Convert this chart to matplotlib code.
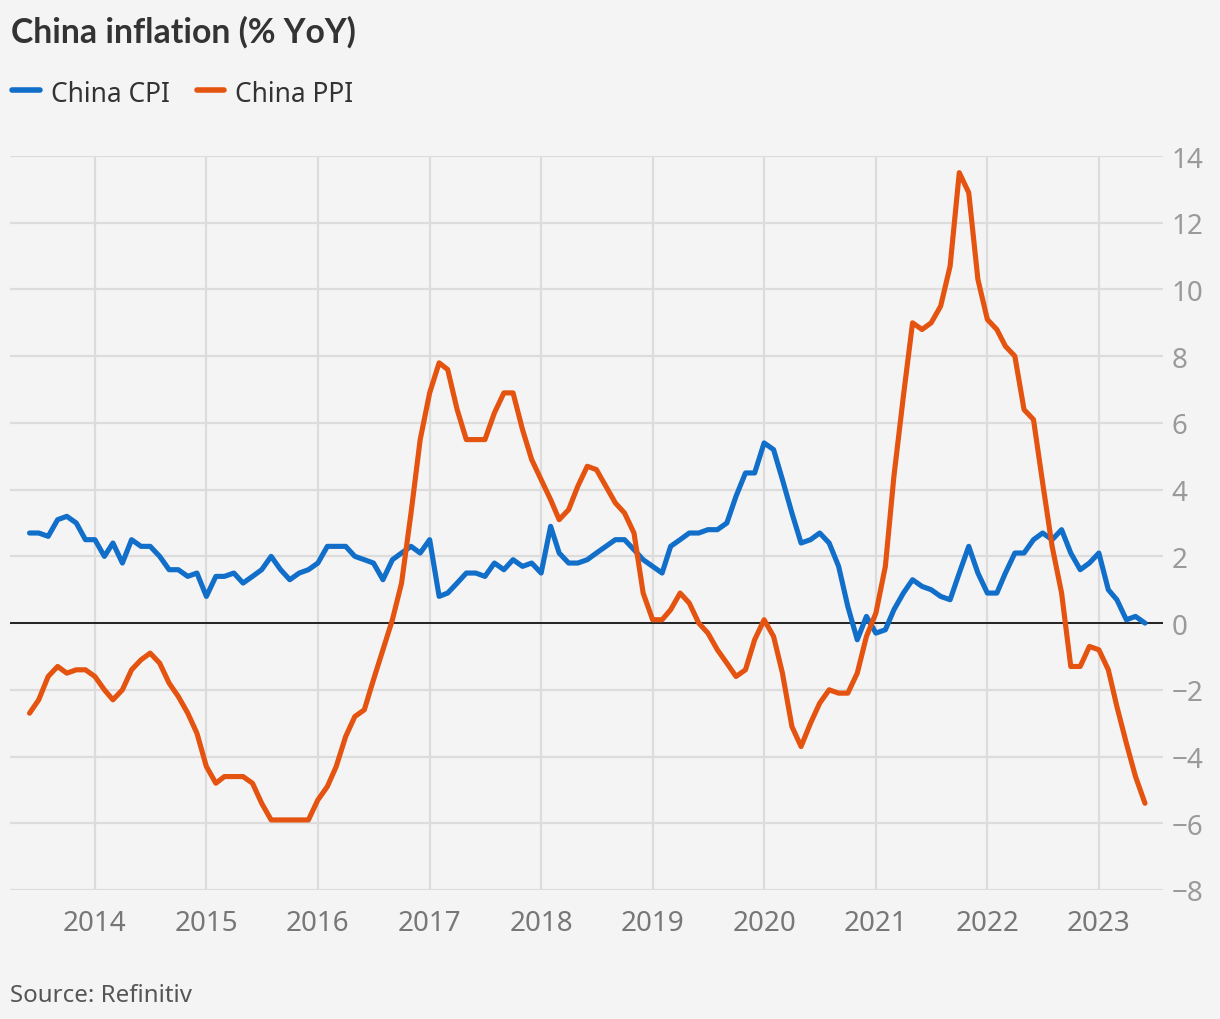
import matplotlib
matplotlib.use("Agg")
import matplotlib.pyplot as plt
from matplotlib.lines import Line2D
import pandas as pd

# ---- data (monthly, Jun 2013 - Jun 2023) ----
start_month = "2013-06-01"
cpi = [2.7, 2.7, 2.6, 3.1, 3.2, 3.0, 2.5,
       2.5, 2.0, 2.4, 1.8, 2.5, 2.3, 2.3, 2.0, 1.6, 1.6, 1.4, 1.5,
       0.8, 1.4, 1.4, 1.5, 1.2, 1.4, 1.6, 2.0, 1.6, 1.3, 1.5, 1.6,
       1.8, 2.3, 2.3, 2.3, 2.0, 1.9, 1.8, 1.3, 1.9, 2.1, 2.3, 2.1,
       2.5, 0.8, 0.9, 1.2, 1.5, 1.5, 1.4, 1.8, 1.6, 1.9, 1.7, 1.8,
       1.5, 2.9, 2.1, 1.8, 1.8, 1.9, 2.1, 2.3, 2.5, 2.5, 2.2, 1.9,
       1.7, 1.5, 2.3, 2.5, 2.7, 2.7, 2.8, 2.8, 3.0, 3.8, 4.5, 4.5,
       5.4, 5.2, 4.3, 3.3, 2.4, 2.5, 2.7, 2.4, 1.7, 0.5, -0.5, 0.2,
       -0.3, -0.2, 0.4, 0.9, 1.3, 1.1, 1.0, 0.8, 0.7, 1.5, 2.3, 1.5,
       0.9, 0.9, 1.5, 2.1, 2.1, 2.5, 2.7, 2.5, 2.8, 2.1, 1.6, 1.8,
       2.1, 1.0, 0.7, 0.1, 0.2, 0.0]
ppi = [-2.7, -2.3, -1.6, -1.3, -1.5, -1.4, -1.4,
       -1.6, -2.0, -2.3, -2.0, -1.4, -1.1, -0.9, -1.2, -1.8, -2.2, -2.7, -3.3,
       -4.3, -4.8, -4.6, -4.6, -4.6, -4.8, -5.4, -5.9, -5.9, -5.9, -5.9, -5.9,
       -5.3, -4.9, -4.3, -3.4, -2.8, -2.6, -1.7, -0.8, 0.1, 1.2, 3.3, 5.5,
       6.9, 7.8, 7.6, 6.4, 5.5, 5.5, 5.5, 6.3, 6.9, 6.9, 5.8, 4.9,
       4.3, 3.7, 3.1, 3.4, 4.1, 4.7, 4.6, 4.1, 3.6, 3.3, 2.7, 0.9,
       0.1, 0.1, 0.4, 0.9, 0.6, 0.0, -0.3, -0.8, -1.2, -1.6, -1.4, -0.5,
       0.1, -0.4, -1.5, -3.1, -3.7, -3.0, -2.4, -2.0, -2.1, -2.1, -1.5, -0.4,
       0.3, 1.7, 4.4, 6.8, 9.0, 8.8, 9.0, 9.5, 10.7, 13.5, 12.9, 10.3,
       9.1, 8.8, 8.3, 8.0, 6.4, 6.1, 4.2, 2.3, 0.9, -1.3, -1.3, -0.7,
       -0.8, -1.4, -2.5, -3.6, -4.6, -5.4]
series_names = ["China CPI", "China PPI"]
year_ticks = list(range(2014, 2024))
y_ticks = list(range(-8, 15, 2))
title = "China inflation (% YoY)"
source = "Source: Refinitiv"

dates = pd.date_range(start_month, periods=len(cpi), freq="MS")

# ---- style ----
BG = "#f4f4f4"
BLUE = "#116ec9"
ORANGE = "#e4530f"
GRID = "#dcdcdc"
W, H = 1220, 1020
plt.rcParams["font.family"] = ["Noto Sans", "DejaVu Sans"]

fig = plt.figure(figsize=(W / 100, H / 100), dpi=100, facecolor=BG)
left, right, top, bottom = 10, 1163, 157, 891
ax = fig.add_axes([left / W, 1 - bottom / H, (right - left) / W, (bottom - top) / H])
ax.set_facecolor(BG)

ax.plot(dates, cpi, color=BLUE, lw=3.7, solid_joinstyle="round", solid_capstyle="round", zorder=4)
ax.plot(dates, ppi, color=ORANGE, lw=3.7, solid_joinstyle="round", solid_capstyle="round", zorder=4)
ax.axhline(0, color="#222222", lw=1.4, zorder=3)

ax.set_ylim(-8, 14)
ax.set_xlim(pd.Timestamp("2013-03-29"), pd.Timestamp("2023-07-30"))
ax.set_yticks(y_ticks)
ax.set_yticklabels([("\u2212" + str(-v)) if v < 0 else str(v) for v in y_ticks])
ax.set_xticks([pd.Timestamp(f"{y}-01-01") for y in year_ticks])
ax.set_xticklabels([str(y) for y in year_ticks])
ax.yaxis.tick_right()
ax.grid(True, color=GRID, lw=1.6, zorder=0)
ax.set_axisbelow(True)
for s in ax.spines.values():
    s.set_visible(False)
ax.tick_params(axis="both", length=0)
ax.tick_params(axis="y", labelsize=20, labelcolor="#9a9a9a", pad=6)
ax.tick_params(axis="x", labelsize=20, labelcolor="#777777", pad=14)

# title
fig.text(11 / W, 1 - 43 / H, title, fontsize=24.3, fontweight="bold", color="#333333",
         ha="left", va="baseline", family=["Lato", "DejaVu Sans"])

# legend (manual)
def legend_item(x0, x1, tx, label, color):
    fig.add_artist(Line2D([x0 / W, x1 / W], [1 - 91 / H, 1 - 91 / H], color=color, lw=4,
                          solid_capstyle="round", transform=fig.transFigure))
    fig.text(tx / W, 1 - 102 / H, label, fontsize=19, color="#333333", ha="left", va="baseline")

legend_item(12, 40, 51, series_names[0], BLUE)
legend_item(197, 224, 235, series_names[1], ORANGE)

# source
fig.text(10 / W, 1 - 1002 / H, source, fontsize=17.3, color="#555555", ha="left", va="baseline")

fig.savefig("out.png", dpi=100, facecolor=BG)
